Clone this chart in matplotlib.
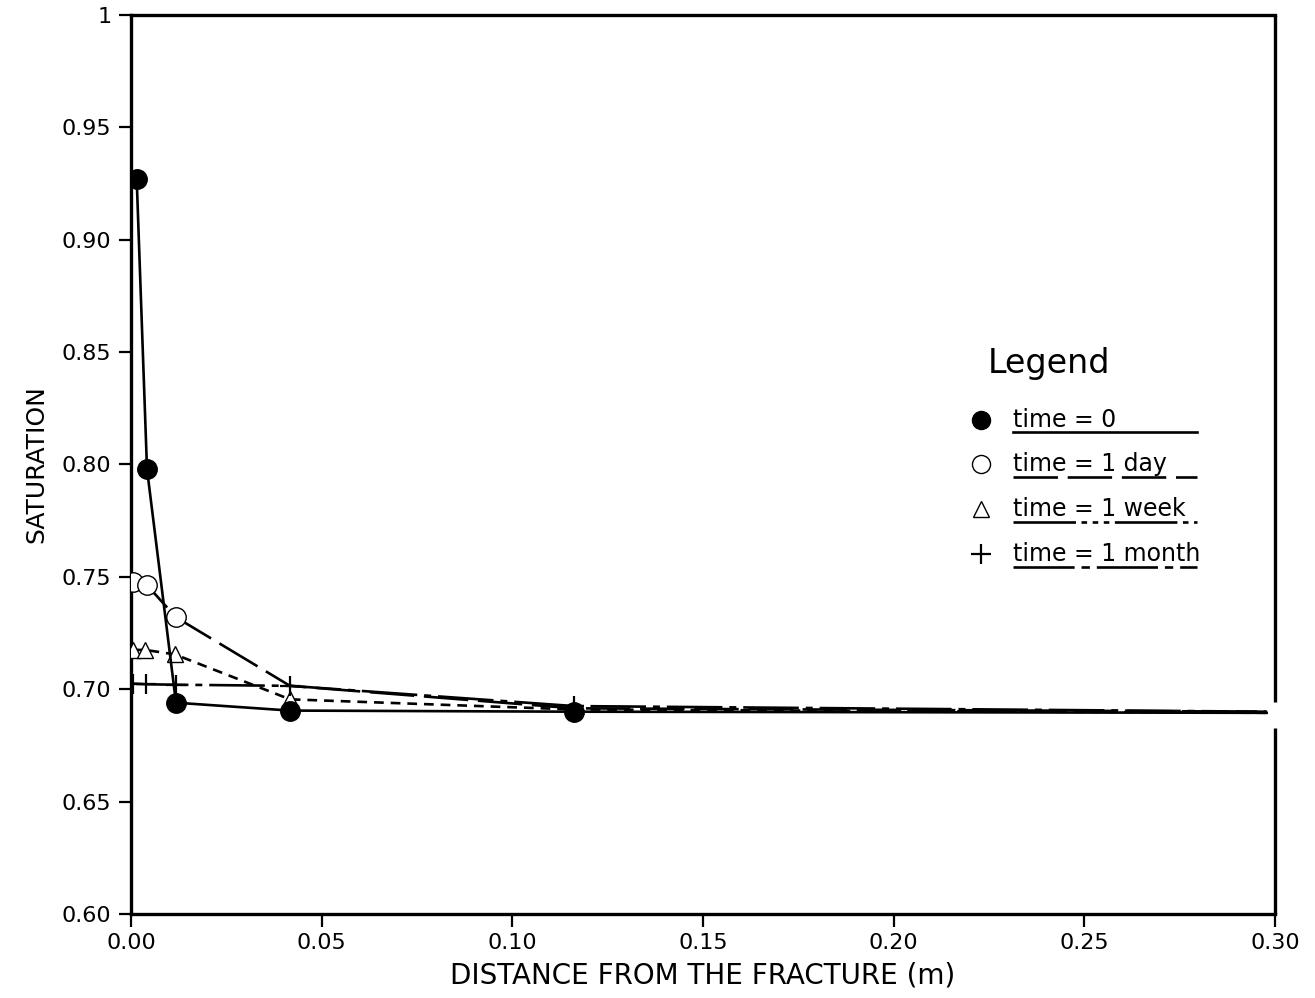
import matplotlib
matplotlib.use("Agg")
import matplotlib.pyplot as plt

plt.rcParams["font.family"] = ["DejaVu Sans"]
plt.rcParams["lines.scale_dashes"] = False

# Saturation profiles in the matrix block next to the fracture
time0_x = [0.0015, 0.0042, 0.0118, 0.0417, 0.1162, 0.2978]
time0_y = [0.927, 0.798, 0.694, 0.6905, 0.690, 0.6895]

day_x = [0.0005, 0.0042, 0.0118, 0.0417, 0.1162, 0.2978]
day_y = [0.7475, 0.7463, 0.732, 0.7015, 0.6915, 0.6900]

week_x = [0.0005, 0.0037, 0.0115, 0.0417, 0.1162, 0.2978]
week_y = [0.7175, 0.7175, 0.7155, 0.6955, 0.691, 0.6895]

month_x = [0.0005, 0.0040, 0.0118, 0.0417, 0.1162, 0.2978]
month_y = [0.7025, 0.7022, 0.7020, 0.7015, 0.6925, 0.6900]

x_ticks = [0.00, 0.05, 0.10, 0.15, 0.20, 0.25, 0.30]
x_tick_labels = ["0.00", "0.05", "0.10", "0.15", "0.20", "0.25", "0.30"]
y_ticks = [0.60, 0.65, 0.70, 0.75, 0.80, 0.85, 0.90, 0.95, 1.00]
y_tick_labels = ["0.60", "0.65", "0.70", "0.75", "0.80", "0.85", "0.90", "0.95", "1"]

legend_labels = ["time = 0", "time = 1 day", "time = 1 week", "time = 1 month"]

fig = plt.figure(figsize=(13.15, 9.98), dpi=100)
ax = fig.add_axes([0.0996, 0.0842, 0.8700, 0.9008])

# (x, y, marked point indices, style, zorder)
series = [
    (day_x, day_y, [0, 1, 2], dict(marker="o", mfc="white", ms=14, ls=(0, (32, 7))), 3),
    (week_x, week_y, [0, 1, 2, 3], dict(marker="^", mfc="white", ms=11, ls=(0, (7, 5))), 3),
    (month_x, month_y, [0, 1, 2, 3, 4], dict(marker="+", ms=14, mew=1.6, ls=(0, (40, 5, 5, 5))), 3),
    (time0_x, time0_y, [0, 1, 2, 3, 4], dict(marker="o", mfc="black", ms=14, ls="-"), 4),
]
for xs, ys, marked, style, z in series:
    ax.plot(xs, ys, color="black", lw=1.9, mec="black",
            markevery=marked, zorder=z, **style)

ax.set_xlim(0, 0.30)
ax.set_ylim(0.60, 1.00)
ax.set_xticks(x_ticks)
ax.set_xticklabels(x_tick_labels)
ax.set_yticks(y_ticks)
ax.set_yticklabels(y_tick_labels)
ax.tick_params(direction="out", length=9, width=1.6, labelsize=16, pad=5)

for side in ["left", "top", "bottom"]:
    ax.spines[side].set_linewidth(2.4)
ax.spines["right"].set_visible(False)
# right frame is broken where the profiles leave the plot
for y0, y1 in [(0.60, 0.6828), (0.6943, 1.00)]:
    ax.plot([0.30, 0.30], [y0, y1], color="black", lw=2.4, clip_on=False,
            solid_capstyle="butt", zorder=5)

ax.set_xlabel("DISTANCE FROM THE FRACTURE (m)", fontsize=20, labelpad=6)
ax.set_ylabel("SATURATION", fontsize=18, labelpad=10)

# hand-drawn legend with underlined labels in each series' line style
tr = ax.transAxes
ax.text(0.749, 0.612, "Legend", transform=tr, fontsize=24, ha="left", va="center")
legend_styles = [
    dict(marker="o", mfc="black", ms=13, ls="-"),
    dict(marker="o", mfc="white", ms=13, ls=(0, (32, 7))),
    dict(marker="^", mfc="white", ms=11, ls=(0, (45, 4, 4, 4, 4, 4, 4, 4))),
    dict(marker="+", ms=14, mew=1.6, ls=(0, (44, 5, 6, 5))),
]
row_y = [0.550, 0.500, 0.450, 0.400]
for label, style, yy in zip(legend_labels, legend_styles, row_y):
    marker_style = {k: v for k, v in style.items() if k != "ls"}
    ax.plot([0.743], [yy], transform=tr, color="black", mec="black", ls="none",
            clip_on=False, **marker_style)
    ax.text(0.771, yy, label, transform=tr, fontsize=17, ha="left", va="center")
    ax.plot([0.771, 0.932], [yy - 0.014, yy - 0.014], transform=tr, color="black",
            lw=1.9, ls=style["ls"], clip_on=False)

fig.savefig("out.png", dpi=100)
